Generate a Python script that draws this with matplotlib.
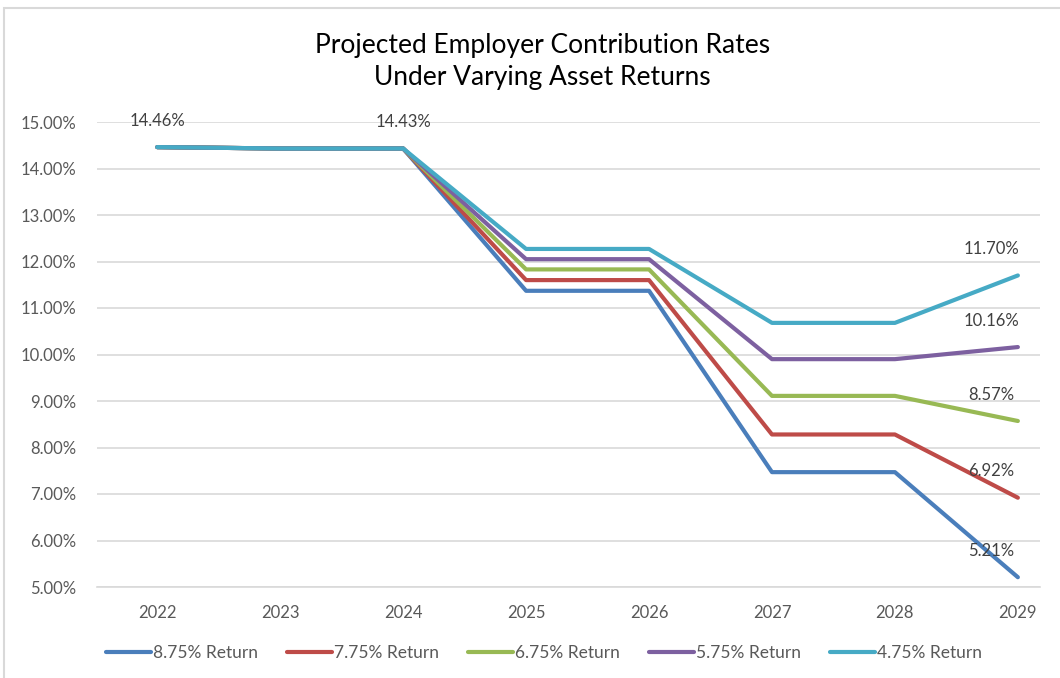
import matplotlib.pyplot as plt
from matplotlib.patches import Rectangle

years = ['2022', '2023', '2024', '2025', '2026', '2027', '2028', '2029']
labels = ['8.75% Return', '7.75% Return', '6.75% Return', '5.75% Return', '4.75% Return']
r875 = [14.46, 14.43, 14.43, 11.37, 11.37, 7.47, 7.47, 5.21]
r775 = [14.46, 14.43, 14.43, 11.60, 11.60, 8.28, 8.28, 6.92]
r675 = [14.46, 14.43, 14.43, 11.83, 11.83, 9.11, 9.11, 8.57]
r575 = [14.46, 14.43, 14.43, 12.05, 12.05, 9.90, 9.90, 10.16]
r475 = [14.46, 14.43, 14.43, 12.27, 12.27, 10.68, 10.68, 11.70]
series = [r875, r775, r675, r575, r475]
colors = ['#4A7EBB', '#BE4B48', '#98B954', '#7D60A0', '#46AAC5']

plt.rcParams['font.family'] = ['Lato', 'DejaVu Sans']

fig = plt.figure(figsize=(10.6, 6.78), dpi=100)
fig.patches.append(Rectangle((4 / 1060, -0.05), 1.1, 1 - 8 / 678 + 0.05, transform=fig.transFigure,
                             fill=False, edgecolor='#D9D9D9', linewidth=1.5))
ax = fig.add_axes([97 / 1060, 1 - 587 / 678, (1040 - 97) / 1060, (587 - 122) / 678])

x = list(range(len(years)))
for s, c, lab in zip(series, colors, labels):
    ax.plot(x, s, color=c, linewidth=3.0, label=lab, solid_capstyle='round')

# data labels
ax.annotate('%.2f%%' % r475[0], (x[0], r475[0]), xytext=(0, 19), textcoords='offset points',
            ha='center', va='center', fontsize=12, color='#404040')
ax.annotate('%.2f%%' % r475[2], (x[2], r475[2]), xytext=(0, 19), textcoords='offset points',
            ha='center', va='center', fontsize=12, color='#404040')
for s in series:
    ax.annotate('%.2f%%' % s[-1], (x[-1], s[-1]), xytext=(-19, 19), textcoords='offset points',
                ha='center', va='center', fontsize=12, color='#404040')

ax.set_ylim(5, 15)
ax.set_xlim(-0.49, 7.18)
ax.set_yticks([5, 6, 7, 8, 9, 10, 11, 12, 13, 14, 15])
ax.set_yticklabels(['%.2f%%' % v for v in range(5, 16)])
ax.set_xticks(x)
ax.set_xticklabels(years)
ax.tick_params(length=0, labelsize=12, colors='#595959')
ax.tick_params(axis='x', pad=13)
ax.tick_params(axis='y', pad=15)
ax.grid(axis='y', color='#D9D9D9', linewidth=1.2)
ax.set_axisbelow(True)
for sp in ['top', 'right', 'left']:
    ax.spines[sp].set_visible(False)
ax.spines['bottom'].set_color('#D9D9D9')
ax.spines['bottom'].set_linewidth(1.2)

fig.text(0.512, 1 - 45 / 678, 'Projected Employer Contribution Rates', ha='center', va='center',
         fontsize=19, color='#000000')
fig.text(0.512, 1 - 78 / 678, 'Under Varying Asset Returns', ha='center', va='center',
         fontsize=19, color='#000000')

fig.legend(loc='center', bbox_to_anchor=(0.513, 1 - 653 / 678), ncol=5, frameon=False,
           fontsize=12.5, handlelength=2.6, handletextpad=0.1, columnspacing=1.68, labelcolor='#595959')

fig.savefig('out.png', dpi=100)
